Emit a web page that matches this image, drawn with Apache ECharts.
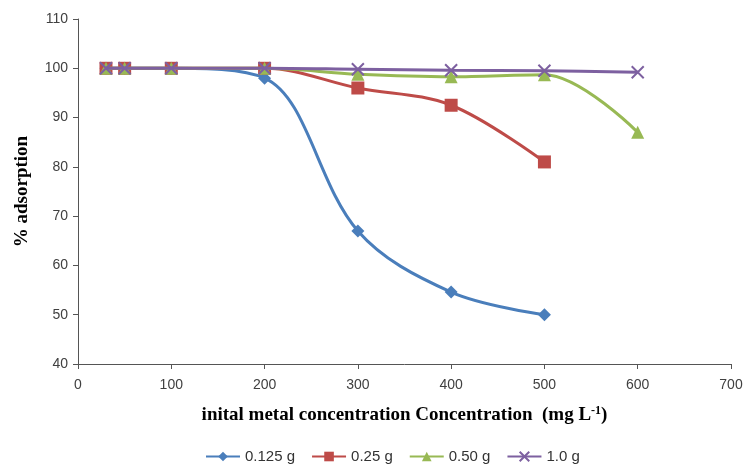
<!DOCTYPE html>
<html><head><meta charset="utf-8">
<script src="https://cdn.jsdelivr.net/npm/echarts@6/dist/echarts.min.js"></script>
<style>html,body{margin:0;padding:0;background:#fff}#c{width:746px;height:467px}</style>
</head><body><div id="c"></div>
<script>
const xA = [30, 50, 100, 200, 300, 400, 500];
const xB = [30, 50, 100, 200, 300, 400, 500, 600];
const s0125 = [100, 100, 100, 98, 67, 54.6, 50];
const s025 = [100, 100, 100, 100, 96, 92.5, 81];
const s050 = [100, 100, 100, 100, 98.8, 98.3, 98.7, 87];
const s10 = [100, 100, 100, 100, 99.8, 99.6, 99.5, 99.2];
const names = ['0.125 g', '0.25 g', '0.50 g', '1.0 g'];
const colors = ['#4a7ebb', '#be4b48', '#98b954', '#7d60a0'];

const pair = (xs, ys) => xs.map((x, i) => [x, ys[i]]);
const chart = echarts.init(document.getElementById('c'));
const tickFont = {fontFamily: 'Liberation Sans', fontSize: 14, color: '#404040'};
const xPath = 'path://M0,0L10,10M10,0L0,10';
function ser(i, data, symbol, size) {
  return {
    name: names[i], type: 'line', smooth: 0.35, data: data,
    symbol: symbol, symbolSize: size,
    lineStyle: {color: colors[i], width: 3},
    itemStyle: {color: colors[i], borderColor: colors[i], borderWidth: i === 3 ? 2 : 0},
    z: i === 3 ? 5 : 2 + i
  };
}
chart.setOption({
  animation: false,
  color: colors,
  grid: {left: 78, right: 15, top: 19, bottom: 103, containLabel: false, outerBoundsMode: 'none'},
  legend: {
    top: 444, left: 200, itemWidth: 34, itemHeight: 12, itemGap: 16,
    textStyle: {fontFamily: 'Liberation Sans', fontSize: 15, color: '#333'},
    data: names
  },
  xAxis: {
    type: 'value', min: 0, max: 700, interval: 100,
    axisLine: {lineStyle: {color: '#555'}},
    axisTick: {show: true, inside: false, length: 5, lineStyle: {color: '#555'}},
    splitLine: {show: false},
    axisLabel: Object.assign({margin: 14}, tickFont),
    name: '{a|inital metal concentration Concentration  (mg L}{s|-1}{a|)}',
    nameLocation: 'middle', nameGap: 41,
    nameTextStyle: {
      rich: {
        a: {fontFamily: 'Liberation Serif', fontWeight: 'bold', fontSize: 19, color: '#000'},
        s: {fontFamily: 'Liberation Serif', fontWeight: 'bold', fontSize: 12, color: '#000', verticalAlign: 'top', padding: [0, 0, 8, 0]}
      }
    }
  },
  yAxis: {
    type: 'value', min: 40, max: 110, interval: 10,
    axisLine: {show: true, lineStyle: {color: '#555'}},
    axisTick: {show: true, length: 5, lineStyle: {color: '#555'}},
    splitLine: {show: false},
    axisLabel: Object.assign({margin: 10}, tickFont),
    name: '% adsorption', nameLocation: 'middle', nameGap: 46,
    nameTextStyle: {fontFamily: 'Liberation Serif', fontWeight: 'bold', fontSize: 19, color: '#000'}
  },
  series: [
    ser(0, pair(xA, s0125), 'diamond', 13),
    ser(1, pair(xA, s025), 'rect', 13),
    ser(2, pair(xB, s050), 'triangle', 13),
    ser(3, pair(xB, s10), xPath, 12)
  ]
});
</script></body></html>
